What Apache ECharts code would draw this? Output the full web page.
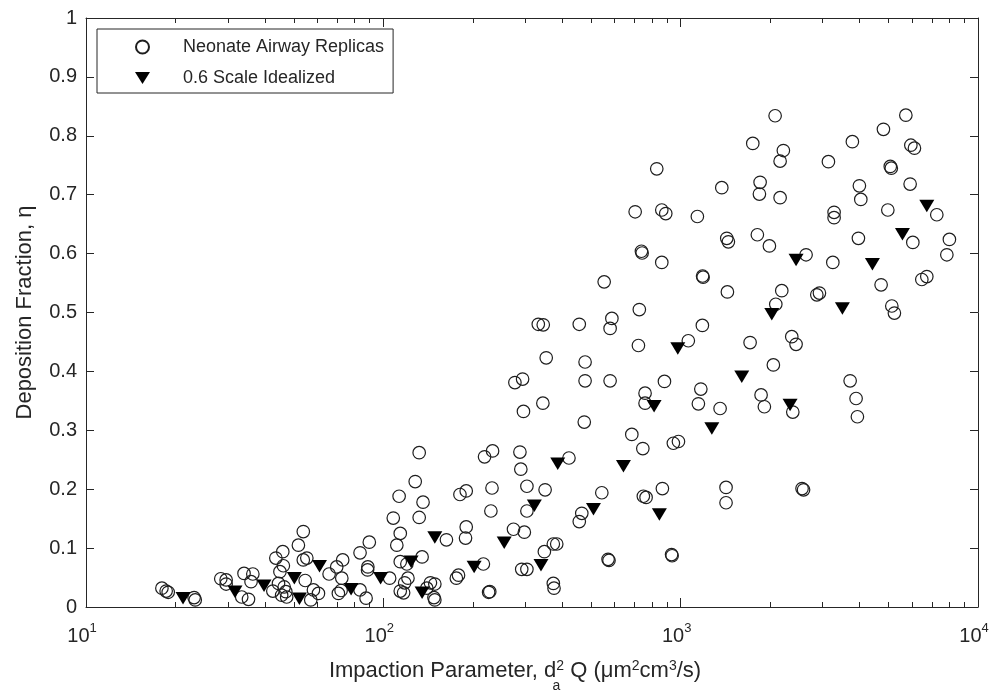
<!DOCTYPE html>
<html>
<head>
<meta charset="utf-8">
<title>Deposition Fraction vs Impaction Parameter</title>
<script src="https://cdn.jsdelivr.net/npm/echarts@6/dist/echarts.min.js"></script>
<style>
  html, body { margin: 0; padding: 0; background: #fff; }
  #chart { width: 1000px; height: 696px; }
</style>
</head>
<body>
<div id="chart"></div>
<script>
// Neonate airway replicas: [impaction parameter (um^2 cm^3/s), deposition fraction]
const neonateReplicas = [
  [18.0,0.032],[18.6,0.027],[18.9,0.025],[23.1,0.016],[23.3,0.012],
  [28.4,0.048],[29.6,0.046],[29.6,0.039],[34.0,0.057],[36.4,0.056],[35.9,0.043],[33.4,0.017],[35.2,0.013],
  [43.5,0.083],[45.9,0.094],[46.1,0.070],[44.9,0.060],[44.4,0.040],[42.5,0.027],[46.4,0.034],[47.0,0.026],[45.5,0.020],[47.3,0.017],
  [51.8,0.105],[53.8,0.128],[53.8,0.080],[55.3,0.083],[54.6,0.045],[58.2,0.029],[60.5,0.023],[57.0,0.012],
  [65.7,0.056],[69.7,0.068],[73.0,0.080],[72.5,0.049],[70.6,0.023],[72.1,0.028],
  [83.5,0.092],[89.7,0.110],[88.7,0.068],[88.5,0.063],[83.5,0.029],[87.5,0.015],
  [108,0.151],
  [332,0.480],[345,0.479],[353,0.423],[277,0.381],[294,0.387],[344,0.346],[296,0.332],
  [132,0.262],[219,0.255],[233,0.265],[288,0.263],[290,0.234],
  [128,0.213],[113,0.188],[136,0.178],[181,0.191],[190,0.197],[232,0.202],[304,0.205],[350,0.199],
  [132,0.152],[230,0.163],[304,0.163],[114,0.125],[111,0.105],[190,0.136],[189,0.117],[163,0.114],[274,0.132],[298,0.127],
  [135,0.085],[114,0.077],[120,0.073],[105,0.049],[121,0.049],[118,0.041],[114,0.027],[117,0.024],
  [144,0.041],[149,0.039],[140,0.032],[148,0.016],[149,0.012],[176,0.049],[179,0.054],[217,0.073],
  [226,0.025],[228,0.026],[292,0.064],[304,0.064],[348,0.094],[373,0.107],[383,0.107],[373,0.040],[375,0.032],
  [721,0.444],[1061,0.452],[477,0.416],[477,0.384],[579,0.384],[882,0.383],[759,0.363],[759,0.346],[1169,0.370],[1147,0.345],[1357,0.337],
  [474,0.314],[685,0.293],[746,0.269],[945,0.278],[983,0.281],[421,0.253],[543,0.194],[749,0.188],[765,0.186],[868,0.201],
  [465,0.159],[456,0.145],[1421,0.203],[1421,0.177],[570,0.081],[574,0.079],[932,0.089],[936,0.087],
  [831,0.744],[1375,0.712],[703,0.671],[864,0.674],[891,0.668],[1138,0.663],[1429,0.626],[1447,0.620],[738,0.604],[742,0.601],
  [864,0.585],[1185,0.562],[1190,0.560],[1436,0.535],[553,0.552],[726,0.505],[587,0.490],[579,0.473],[456,0.480],[1183,0.478],
  [2078,0.834],[5719,0.835],[4808,0.811],[1748,0.787],[2215,0.775],[2160,0.757],[3780,0.790],[5945,0.784],[6113,0.779],[3140,0.756],[5070,0.748],[5110,0.745],
  [1850,0.721],[1840,0.701],[2160,0.695],[3991,0.715],[4035,0.692],[5912,0.718],[3281,0.670],[3281,0.661],[4974,0.674],[7268,0.666],
  [1811,0.632],[1988,0.613],[2641,0.598],[3961,0.626],[6037,0.619],[8013,0.624],[7856,0.598],[3249,0.585],
  [2188,0.537],[2089,0.514],[2870,0.530],[2929,0.533],[4722,0.547],[6472,0.556],[6727,0.561],[5130,0.511],[5234,0.499],
  [1712,0.449],[2364,0.459],[2444,0.446],[2050,0.411],[1864,0.360],[1912,0.340],[2383,0.331],[3715,0.384],[3890,0.354],[3930,0.323],
  [2560,0.201],[2590,0.199]
];

// 0.6 scale idealized geometry
const scaleIdealized = [
  [21.2,0.015],[31.7,0.026],[39.7,0.036],[50.2,0.049],[61.0,0.069],[52.2,0.014],[77.9,0.030],[97.9,0.049],
  [124,0.077],[135,0.024],[149,0.118],[202,0.068],[255,0.109],[322,0.172],[339,0.071],[386,0.243],
  [978,0.439],[814,0.341],[1273,0.303],[642,0.239],[509,0.166],[848,0.157],
  [1605,0.391],[2333,0.343],[2025,0.497],[3499,0.507],[2444,0.589],[4415,0.582],[5570,0.633],[6727,0.681]
];

const seriesNames = ['Neonate Airway Replicas', '0.6 Scale Idealized'];

// Logarithmic x axis: decade ticks with their exponents, plus minor ticks
const xMajorTicks = [10, 100, 1000, 10000];
const xTickExponents = ['1', '2', '3', '4'];
const xMinorTicks = [20, 30, 40, 50, 60, 70, 80, 90,
                     200, 300, 400, 500, 600, 700, 800, 900,
                     2000, 3000, 4000, 5000, 6000, 7000, 8000, 9000];

const FONT = "'Liberation Sans', Arial, Helvetica, sans-serif";
const INK = '#262626';

function exponentLabel(value) {
  for (let i = 0; i < xMajorTicks.length; i++) {
    if (Math.abs(value / xMajorTicks[i] - 1) < 1e-6) {
      return '{b|10}{s|' + xTickExponents[i] + '}';
    }
  }
  return '';
}

function logAxis(position, ticks, tickLen, opts) {
  return Object.assign({
    type: 'log',
    logBase: 10,
    min: 10,
    max: 10000,
    position: position,
    gridIndex: 0,
    axisLine: { show: false, lineStyle: { color: INK, width: 1 } },
    axisTick: { show: true, inside: true, length: tickLen, customValues: ticks,
                lineStyle: { color: INK, width: 1 } },
    axisLabel: { show: false },
    minorTick: { show: false },
    splitLine: { show: false },
    minorSplitLine: { show: false }
  }, opts || {});
}

function valueAxis(position, opts) {
  return Object.assign({
    type: 'value',
    min: 0,
    max: 1,
    interval: 0.1,
    position: position,
    axisLine: { show: true, lineStyle: { color: INK, width: 1 } },
    axisTick: { show: true, inside: true, length: 8, lineStyle: { color: INK, width: 1 } },
    axisLabel: { show: false },
    splitLine: { show: false }
  }, opts || {});
}

const option = {
  backgroundColor: '#ffffff',
  animation: false,
  textStyle: { fontFamily: FONT, color: INK },
  grid: { left: 86, right: 22, top: 18, bottom: 89, containLabel: false, outerBoundsMode: 'none' },
  legend: {
    data: seriesNames,
    orient: 'vertical',
    left: 97,
    top: 29,
    padding: [8, 9, 5, 38],
    itemGap: 11,
    itemWidth: 15,
    itemHeight: 13,
    symbolKeepAspect: true,
    borderColor: INK,
    borderWidth: 1,
    borderRadius: 0,
    backgroundColor: '#ffffff',
    selectedMode: false,
    textStyle: { fontFamily: FONT, fontSize: 18, color: INK, lineHeight: 20, padding: [0, 0, 0, 28] }
  },
  xAxis: [
    logAxis('bottom', xMajorTicks, 9, {
      axisLine: { show: true, lineStyle: { color: INK, width: 1 } },
      axisLabel: {
        show: true,
        customValues: xMajorTicks,
        margin: 17,
        formatter: exponentLabel,
        color: INK,
        padding: [0, 8, 0, 0],
        rich: {
          b: { fontFamily: FONT, fontSize: 20, lineHeight: 22, verticalAlign: 'bottom', color: INK },
          s: { fontFamily: FONT, fontSize: 13, lineHeight: 13, verticalAlign: 'bottom', padding: [0, 0, 11, 0], color: INK }
        }
      },
      name: '{t|Impaction Parameter, d}{sub|a}{sup|2}{t| Q (\u03bcm}{sup|2}{t|cm}{sup|3}{t|/s)}',
      nameLocation: 'middle',
      nameGap: 60,
      nameMoveOverlap: false,
      nameTextStyle: {
        fontFamily: FONT, fontSize: 22, color: INK,
        padding: [0, 34, 0, 0],
        rich: {
          t: { fontFamily: FONT, fontSize: 22, lineHeight: 26, verticalAlign: 'bottom', padding: [0, 0, 11, 0], color: INK },
          sub: { fontFamily: FONT, fontSize: 14, lineHeight: 14, verticalAlign: 'bottom', width: 0.01, color: INK },
          sup: { fontFamily: FONT, fontSize: 14, lineHeight: 14, verticalAlign: 'bottom', padding: [0, 0, 20, 0], color: INK }
        }
      }
    }),
    logAxis('bottom', xMinorTicks, 5),
    logAxis('top', xMajorTicks, 9, { axisLine: { show: true, lineStyle: { color: INK, width: 1 } } }),
    logAxis('top', xMinorTicks, 5)
  ],
  yAxis: [
    valueAxis('left', {
      axisLabel: { show: true, fontFamily: FONT, fontSize: 20, color: INK, margin: 9 },
      name: 'Deposition Fraction, \u03b7',
      nameLocation: 'middle',
      nameGap: 50,
      nameMoveOverlap: false,
      nameTextStyle: { fontFamily: FONT, fontSize: 22, color: INK }
    }),
    valueAxis('right')
  ],
  series: [
    {
      name: seriesNames[0],
      type: 'scatter',
      xAxisIndex: 0,
      yAxisIndex: 0,
      data: neonateReplicas,
      symbol: 'circle',
      symbolSize: 12.5,
      itemStyle: { color: 'rgba(0,0,0,0)', borderColor: '#1e1e1e', borderWidth: 1.2, opacity: 1 },
      emphasis: { disabled: true },
      z: 2
    },
    {
      name: seriesNames[1],
      type: 'scatter',
      xAxisIndex: 0,
      yAxisIndex: 0,
      data: scaleIdealized,
      symbol: 'path://M0,0L20,0L10,16Z',
      symbolSize: [15, 12.5],
      itemStyle: { color: '#000000', borderWidth: 0, opacity: 1 },
      emphasis: { disabled: true },
      z: 3
    }
  ]
};

const chart = echarts.init(document.getElementById('chart'), null, { renderer: 'canvas' });
chart.setOption(option);
</script>
</body>
</html>
